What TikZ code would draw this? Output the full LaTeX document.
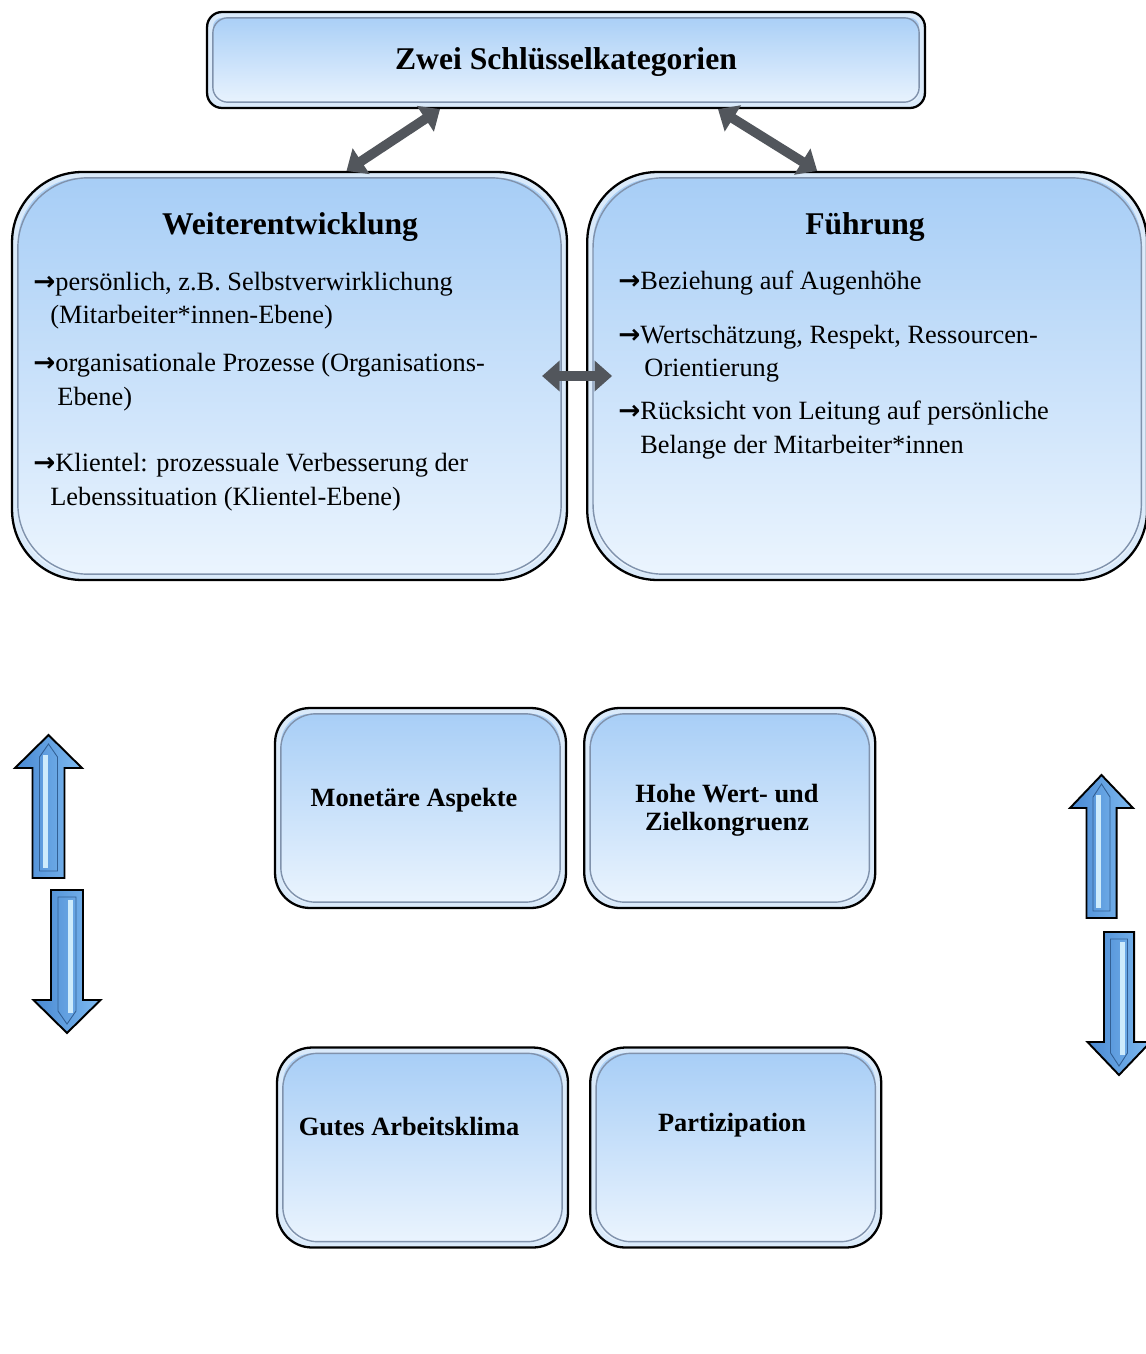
\documentclass[tikz,border=0pt]{standalone}
\usepackage{fontspec}
\setmainfont{Liberation Serif}
\newfontfamily\arrowfont{DejaVu Sans}
\usetikzlibrary{arrows.meta,positioning,calc}

\definecolor{boxtop}{RGB}{166,205,246}
\definecolor{boxbottom}{RGB}{236,245,254}
\definecolor{boxband}{RGB}{218,234,250}
\definecolor{boxrim}{RGB}{128,146,172}
\definecolor{linkgray}{RGB}{82,86,92}
\definecolor{blockdark}{RGB}{72,136,210}
\definecolor{blocklight}{RGB}{126,186,240}
\definecolor{blockshine}{RGB}{205,235,252}

\newcommand{\headfont}{\fontsize{18}{22}\selectfont\bfseries}
\newcommand{\itemfont}{\fontsize{15}{18.8}\selectfont}
\newcommand{\tilefont}{\fontsize{15}{15.4}\selectfont\bfseries}
\newcommand{\itemarrow}{{\arrowfont\bfseries →}}

\tikzset{
  keybox/.style={draw=black, line width=1.3pt, rounded corners=#1,
    top color=boxtop, bottom color=boxbottom, inner sep=0pt,
    path picture={
      \draw[boxband, line width=6.5pt, rounded corners=#1]
        (path picture bounding box.north west) rectangle (path picture bounding box.south east);
      \draw[boxrim, line width=0.8pt, rounded corners=#1]
        ([shift={(3.3pt,-3.3pt)}]path picture bounding box.north west)
        rectangle ([shift={(-3.3pt,3.3pt)}]path picture bounding box.south east);
    }},
  linkarrow/.style={draw=linkgray, line width=5.5pt,
    {Triangle[width=17pt,length=10pt]}-{Triangle[width=17pt,length=10pt]}},
  blockarrow/.pic={
    \draw[line width=1.1pt, left color=blockdark, right color=blocklight]
      (0,0) -- (33.5,33) -- (16,33) -- (16,143) -- (-16,143) -- (-16,33) -- (-33.5,33) -- cycle;
    \draw[blockdark!70!black, line width=0.5pt]
      (0,9) -- (-9,22) -- (-9,136) -- (9,136) -- (9,22) -- cycle;
    \fill[blockshine] (-6,20) rectangle (-1,133);
  },
  item/.style={font=\itemfont, anchor=base west, align=left, inner sep=0pt}
}

\begin{document}
\begin{tikzpicture}[x=0.02cm, y=-0.02cm, node distance=0.36cm]
    \useasboundingbox (0,0) rectangle (1145,1354);

    % Boxes {top, weiter, fuehr, mon, hohe, gutes, part}
    \node [keybox=0.3cm, minimum width=14.36cm, minimum height=1.92cm]  (top)    at (566,60)    {};
    \node [keybox=1.4cm, minimum width=11.1cm, minimum height=8.16cm]   (weiter) at (289.5,376) {};
    \node [keybox=1.4cm, minimum width=11.2cm, minimum height=8.16cm]   (fuehr)  [right=of weiter] {};
    \node [keybox=0.7cm, minimum width=5.82cm, minimum height=4cm]      (mon)    at (420.5,808) {};
    \node [keybox=0.7cm, minimum width=5.82cm, minimum height=4cm]      (hohe)   [right=0.32cm of mon] {};
    \node [keybox=0.7cm, minimum width=5.82cm, minimum height=4cm]      (gutes)  at (422.5,1147.5) {};
    \node [keybox=0.7cm, minimum width=5.82cm, minimum height=4cm]      (part)   [right=0.4cm of gutes] {};

    % Block arrows (placed by their tips)
    \pic (upleft)                           at (48.5,735)  {blockarrow};
    \pic [rotate=180] (downleft)            at (67,1033)   {blockarrow};
    \pic [xscale=0.94] (upright)            at (1101.5,775) {blockarrow};
    \pic [rotate=180, xscale=0.94] (downright) at (1119,1075) {blockarrow};

    % Paths
    \path ($(top.south)+(-126,0)$) edge [linkarrow] ($(weiter.north)+(57,0)$);
    \path ($(top.south)+(152,0)$)  edge [linkarrow] ($(fuehr.north)+(-50,0)$);
    \path (weiter.east) edge [linkarrow, shorten <=-14.8pt, shorten >=-14.8pt] (fuehr.west);

    % Texts
    \node [font=\headfont, anchor=base] (toptxt)    at (566,70)  {Zwei Schlüsselkategorien};
    \node [font=\headfont, anchor=base] (weitertxt) at (290,235) {Weiterentwicklung};
    \node [font=\headfont, anchor=base] (fuehrtxt)  at (865,235) {Führung};

    \node [item] (w1) at (33,324) {\itemarrow persönlich, z.B. Selbstverwirklichung\\\hspace*{9.7pt}(Mitarbeiter*innen-Ebene)};
    \node [item] (w2) at (33,405) {\itemarrow organisationale Prozesse (Organisations-\\\hspace*{13.7pt}Ebene)};
    \node [item] (w3) at (33,505) {\itemarrow Klientel: prozessuale Verbesserung der\\\hspace*{9.7pt}Lebenssituation (Klientel-Ebene)};

    \node [item] (f1) at (618,290) {\itemarrow Beziehung auf Augenhöhe};
    \node [item] (f2) at (618,377) {\itemarrow Wertschätzung, Respekt, Ressourcen-\\\hspace*{14.8pt}Orientierung};
    \node [item] (f3) at (618,453) {\itemarrow Rücksicht von Leitung auf persönliche\\\hspace*{12.5pt}Belange der Mitarbeiter*innen};

    \node [font=\tilefont, anchor=base] (montxt)   at (414,806)  {Monetäre Aspekte};
    \node [font=\tilefont, anchor=base, align=center] (hohetxt) at (727,830) {Hohe Wert- und\\Zielkongruenz};
    \node [font=\tilefont, anchor=base] (gutestxt) at (409,1135) {Gutes Arbeitsklima};
    \node [font=\tilefont, anchor=base] (parttxt)  at (732,1131) {Partizipation};

\end{tikzpicture}
\end{document}
